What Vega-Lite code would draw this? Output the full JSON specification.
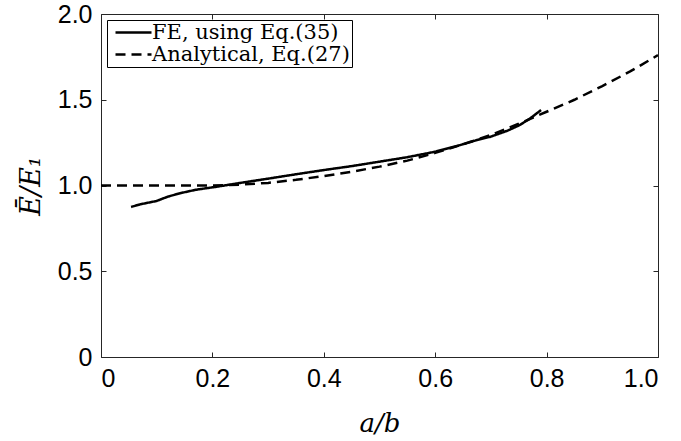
{
  "$schema": "https://vega.github.io/schema/vega-lite/v6.json",
  "width": 557,
  "height": 343,
  "autosize": "none",
  "padding": {"left": 101, "top": 14, "right": 23, "bottom": 84},
  "background": "white",
  "config": {
    "view": {"stroke": "#262626", "strokeWidth": 1},
    "axis": {
      "grid": false,
      "domain": false,
      "tickColor": "#262626",
      "tickSize": -5,
      "labelFont": "Liberation Sans",
      "labelFontSize": 25,
      "labelColor": "black",
      "titleFont": "DejaVu Serif",
      "titleFontStyle": "italic",
      "titleFontWeight": "normal",
      "titleFontSize": 25,
      "titleColor": "black"
    }
  },
  "datasets": {
    "curves": [
      {"series": "FE, using Eq.(35)", "x": 0.054, "y": 0.875},
      {"series": "FE, using Eq.(35)", "x": 0.07, "y": 0.89},
      {"series": "FE, using Eq.(35)", "x": 0.085, "y": 0.9},
      {"series": "FE, using Eq.(35)", "x": 0.1, "y": 0.91},
      {"series": "FE, using Eq.(35)", "x": 0.12, "y": 0.935},
      {"series": "FE, using Eq.(35)", "x": 0.142, "y": 0.955},
      {"series": "FE, using Eq.(35)", "x": 0.17, "y": 0.975},
      {"series": "FE, using Eq.(35)", "x": 0.208, "y": 0.993},
      {"series": "FE, using Eq.(35)", "x": 0.25, "y": 1.015},
      {"series": "FE, using Eq.(35)", "x": 0.3, "y": 1.04},
      {"series": "FE, using Eq.(35)", "x": 0.357, "y": 1.069},
      {"series": "FE, using Eq.(35)", "x": 0.4, "y": 1.09},
      {"series": "FE, using Eq.(35)", "x": 0.45, "y": 1.113},
      {"series": "FE, using Eq.(35)", "x": 0.5, "y": 1.139},
      {"series": "FE, using Eq.(35)", "x": 0.55, "y": 1.165},
      {"series": "FE, using Eq.(35)", "x": 0.6, "y": 1.197},
      {"series": "FE, using Eq.(35)", "x": 0.645, "y": 1.236},
      {"series": "FE, using Eq.(35)", "x": 0.675, "y": 1.265},
      {"series": "FE, using Eq.(35)", "x": 0.7, "y": 1.285},
      {"series": "FE, using Eq.(35)", "x": 0.73, "y": 1.32},
      {"series": "FE, using Eq.(35)", "x": 0.752, "y": 1.353},
      {"series": "FE, using Eq.(35)", "x": 0.77, "y": 1.39},
      {"series": "FE, using Eq.(35)", "x": 0.79, "y": 1.44},
      {"series": "Analytical, Eq.(27)", "x": 0.0, "y": 1.0},
      {"series": "Analytical, Eq.(27)", "x": 0.1, "y": 1.0},
      {"series": "Analytical, Eq.(27)", "x": 0.2, "y": 1.0},
      {"series": "Analytical, Eq.(27)", "x": 0.25, "y": 1.005},
      {"series": "Analytical, Eq.(27)", "x": 0.3, "y": 1.015},
      {"series": "Analytical, Eq.(27)", "x": 0.35, "y": 1.033},
      {"series": "Analytical, Eq.(27)", "x": 0.4, "y": 1.055},
      {"series": "Analytical, Eq.(27)", "x": 0.45, "y": 1.08},
      {"series": "Analytical, Eq.(27)", "x": 0.5, "y": 1.11},
      {"series": "Analytical, Eq.(27)", "x": 0.55, "y": 1.145},
      {"series": "Analytical, Eq.(27)", "x": 0.6, "y": 1.19},
      {"series": "Analytical, Eq.(27)", "x": 0.65, "y": 1.24},
      {"series": "Analytical, Eq.(27)", "x": 0.7, "y": 1.295},
      {"series": "Analytical, Eq.(27)", "x": 0.75, "y": 1.36},
      {"series": "Analytical, Eq.(27)", "x": 0.8, "y": 1.43},
      {"series": "Analytical, Eq.(27)", "x": 0.85, "y": 1.5},
      {"series": "Analytical, Eq.(27)", "x": 0.9, "y": 1.58},
      {"series": "Analytical, Eq.(27)", "x": 0.95, "y": 1.665},
      {"series": "Analytical, Eq.(27)", "x": 1.0, "y": 1.76}
    ]
  },
  "data": {"name": "curves"},
  "layer": [
    {
      "mark": {"type": "line", "color": "black", "strokeWidth": 2.5, "clip": true},
      "encoding": {
        "x": {
          "field": "x", "type": "quantitative",
          "scale": {"domain": [0, 1], "nice": false, "zero": false},
          "axis": {
            "title": "a/b", "values": [0, 0.2, 0.4, 0.6, 0.8, 1.0],
            "labelExpr": "datum.value == 0 ? '0' : format(datum.value, '.1f')",
            "labelPadding": 14, "titlePadding": 19, "titleFontSize": 26
          }
        },
        "y": {
          "field": "y", "type": "quantitative",
          "scale": {"domain": [0, 2], "nice": false},
          "axis": {
            "title": "Ē/E₁", "values": [0, 0.5, 1.0, 1.5, 2.0],
            "labelExpr": "datum.value == 0 ? '0' : format(datum.value, '.1f')",
            "labelPadding": 14, "titlePadding": 12, "titleFontSize": 27
          }
        },
        "detail": {"field": "series"},
        "strokeDash": {
          "field": "series", "type": "nominal",
          "scale": {"domain": ["FE, using Eq.(35)", "Analytical, Eq.(27)"], "range": [[1, 0], [10, 6]]},
          "legend": {
            "title": null,
            "orient": "none",
            "legendX": 6,
            "legendY": 6,
            "direction": "vertical",
            "symbolType": "M-2,0H2",
            "symbolSize": 324,
            "symbolOffset": 14,
            "symbolStrokeWidth": 2.5,
            "symbolStrokeColor": "black",
            "labelFont": "DejaVu Serif",
            "labelFontSize": 21,
            "labelColor": "black",
            "labelOffset": 8,
            "labelLimit": 400,
            "rowPadding": 0,
            "padding": 2,
            "strokeColor": "black",
            "fillColor": "white",
            "cornerRadius": 0
          }
        }
      }
    },
    {
      "mark": {"type": "line", "opacity": 0},
      "encoding": {
        "x": {
          "field": "x", "type": "quantitative",
          "axis": {"orient": "top", "values": [0, 0.2, 0.4, 0.6, 0.8, 1.0], "labels": false, "title": null}
        },
        "y": {
          "field": "y", "type": "quantitative",
          "axis": {"orient": "right", "values": [0, 0.5, 1.0, 1.5, 2.0], "labels": false, "title": null}
        },
        "detail": {"field": "series"}
      }
    }
  ],
  "resolve": {"axis": {"x": "independent", "y": "independent"}}
}
